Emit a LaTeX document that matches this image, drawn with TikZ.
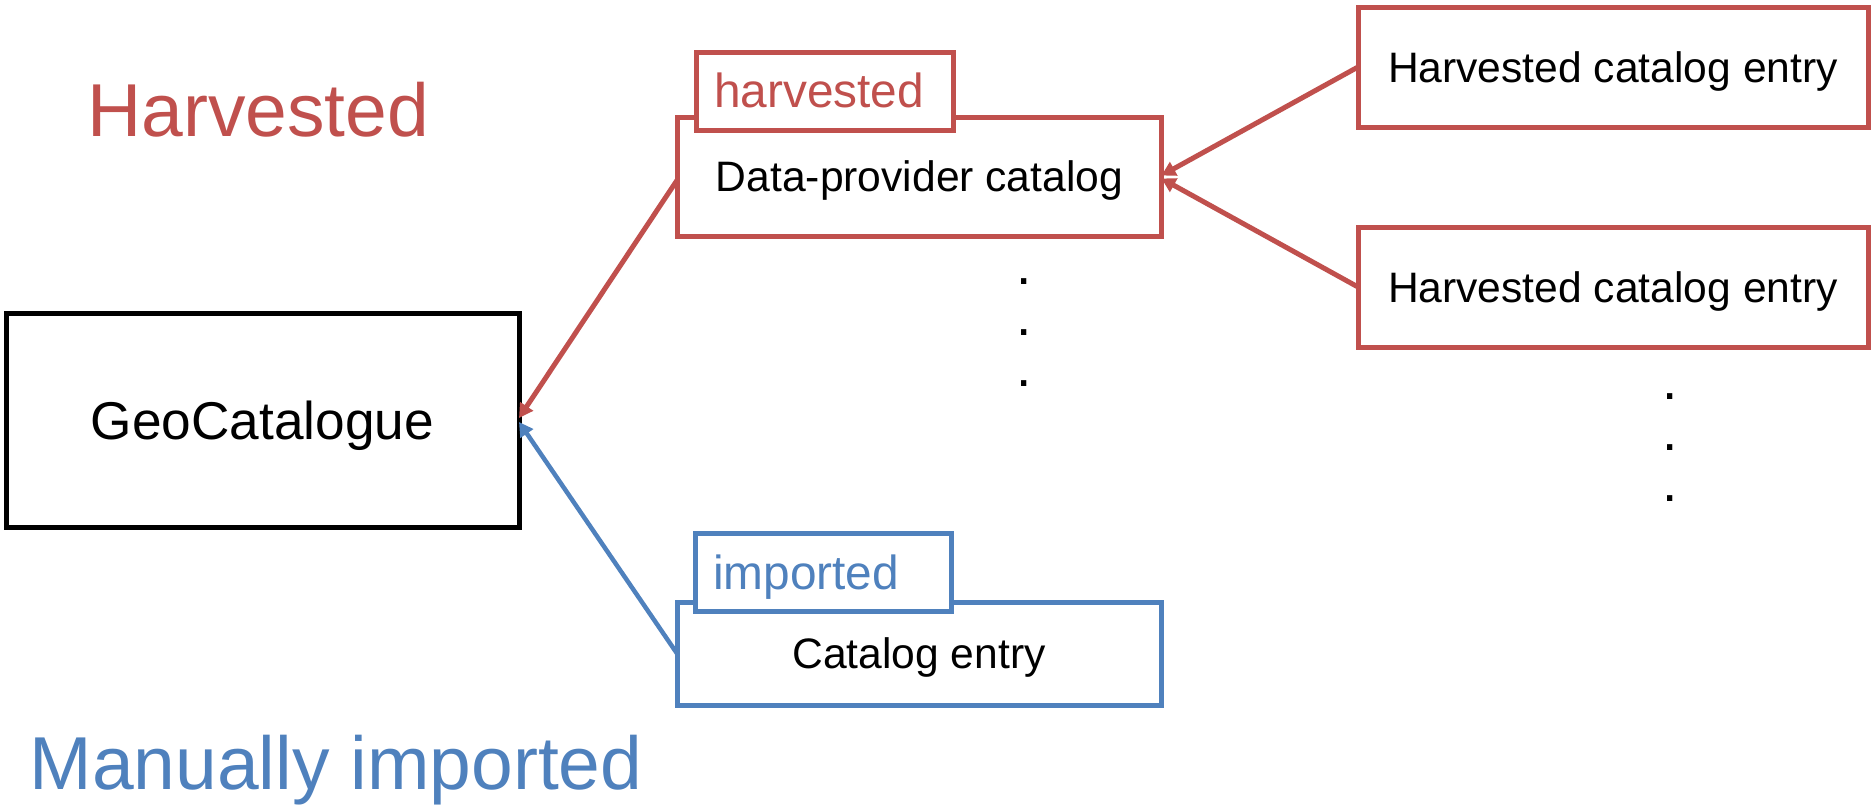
\documentclass[tikz,border=0pt]{standalone}
\usepackage{fontspec}
\setmainfont{Liberation Sans}
\usetikzlibrary{arrows.meta}
\definecolor{hred}{HTML}{C0504D}
\definecolor{mblue}{HTML}{4F81BD}
\begin{document}
\begin{tikzpicture}[x=1pt,y=-1pt,
  box/.style={draw, line width=5pt, inner sep=0pt, outer sep=0pt, text=black,
    font=\fontsize{42.6}{50}\selectfont, text height=30pt, text depth=0pt},
  redbox/.style={box, draw=hred},
  bluebox/.style={box, draw=mblue},
  tabbox/.style={draw, fill=white, line width=5pt, inner sep=0pt, outer sep=0pt},
  tablabel/.style={anchor=base west, inner sep=0pt, font=\fontsize{47.8}{56}\selectfont},
  biglabel/.style={anchor=base west, inner sep=0pt, font=\fontsize{75}{88}\selectfont},
  dotlabel/.style={anchor=base, inner sep=0pt, font=\fontsize{55}{60}\selectfont},
  redarrow/.style={draw=hred, line width=5pt, -{Triangle[length=14pt,width=15pt]}},
  bluearrow/.style={draw=mblue, line width=4.5pt, -{Triangle[length=14pt,width=15pt]}}
]
\useasboundingbox (0,0) rectangle (1871,806);

% big labels
\node[biglabel, text=hred] (lh) at (87,136) {Harvested};
\node[biglabel, text=mblue] (lm) at (29.5,789) {Manually imported};

% GeoCatalogue
\node[box, draw=black, minimum width=513pt, minimum height=214pt,
  font=\fontsize{53.2}{62}\selectfont, text height=38pt] (geo) at (262.5,420) {GeoCatalogue};

% Data-provider catalog with tab
\node[redbox, minimum width=484pt, minimum height=119pt] (dp) at (919.5,176.5) {Data-provider catalog};
\node[tabbox, draw=hred, minimum width=257pt, minimum height=78pt] (tabh) at (824.5,91) {};
\node[tablabel, text=hred] (tabhl) at (714,107) {harvested};

% Catalog entry with tab
\node[bluebox, minimum width=484pt, minimum height=103pt] (ce) at (919,653.5) {Catalog entry};
\node[tabbox, draw=mblue, minimum width=256pt, minimum height=78pt] (tabi) at (823,572) {};
\node[tablabel, text=mblue] (tabil) at (713,589) {imported};

% Harvested catalog entries
\node[redbox, minimum width=510pt, minimum height=120pt] (e1) at (1613,67) {Harvested catalog entry};
\node[redbox, minimum width=510pt, minimum height=120pt] (e2) at (1613,287) {Harvested catalog entry};

% dots
\node[dotlabel] (d1) at (1024,284) {.};
\node[dotlabel] (d2) at (1024,335) {.};
\node[dotlabel] (d3) at (1024,386) {.};
\node[dotlabel] (d4) at (1670,399) {.};
\node[dotlabel] (d5) at (1670,450) {.};
\node[dotlabel] (d6) at (1670,501) {.};

% connectors
\draw[redarrow] ([yshift=-3pt]dp.west) -- ([yshift=2pt]geo.east);
\draw[bluearrow] (ce.west) -- ([yshift=-2pt]geo.east);
\draw[redarrow] (e1.west) -- ([yshift=1pt]dp.east);
\draw[redarrow] (e2.west) -- ([yshift=-2pt]dp.east);
\end{tikzpicture}
\end{document}
